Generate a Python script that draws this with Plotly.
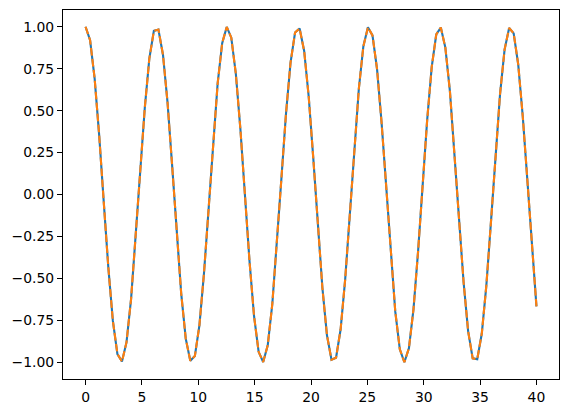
import plotly.graph_objects as go

# sample positions and cosine values
x_vals = [0.0, 0.404, 0.808, 1.212, 1.616, 2.020, 2.424, 2.828, 3.232, 3.636,
          4.040, 4.444, 4.848, 5.253, 5.657, 6.061, 6.465, 6.869, 7.273, 7.677,
          8.081, 8.485, 8.889, 9.293, 9.697, 10.101, 10.505, 10.909, 11.313, 11.717,
          12.121, 12.525, 12.929, 13.333, 13.737, 14.141, 14.545, 14.949, 15.354, 15.758,
          16.162, 16.566, 16.970, 17.374, 17.778, 18.182, 18.586, 18.990, 19.394, 19.798,
          20.202, 20.606, 21.010, 21.414, 21.818, 22.222, 22.626, 23.030, 23.434, 23.838,
          24.242, 24.646, 25.051, 25.455, 25.859, 26.263, 26.667, 27.071, 27.475, 27.879,
          28.283, 28.687, 29.091, 29.495, 29.899, 30.303, 30.707, 31.111, 31.515, 31.919,
          32.323, 32.727, 33.131, 33.535, 33.939, 34.343, 34.747, 35.152, 35.556, 35.960,
          36.364, 36.768, 37.172, 37.576, 37.980, 38.384, 38.788, 39.192, 39.596, 40.0]

y_vals = [1.0000, 0.9195, 0.6909, 0.3511, -0.0453, -0.4344, -0.7536, -0.9513, -0.9959, -0.8801,
          -0.6225, -0.2648, 0.1357, 0.5142, 0.8100, 0.9753, 0.9836, 0.8334, 0.5491, 0.1763,
          -0.2249, -0.5898, -0.8598, -0.9913, -0.9632, -0.7799, -0.4711, -0.0864, 0.3122, 0.6606,
          0.9025, 0.9992, 0.9349, 0.7200, 0.3892, -0.0042, -0.3970, -0.7259, -0.9379, -0.9988,
          -0.8989, -0.6542, -0.3042, 0.0948, 0.4786, 0.7852, 0.9654, 0.9902, 0.8555, 0.5830,
          0.2166, -0.1846, -0.5561, -0.8381, -0.9851, -0.9734, -0.8050, -0.5070, -0.1273, 0.2729,
          0.6292, 0.8841, 0.9966, 0.9487, 0.7479, 0.4268, 0.0369, -0.3590, -0.6970, -0.9228,
          -1.0000, -0.9161, -0.6847, -0.3431, 0.0538, 0.4421, 0.7591, 0.9539, 0.9951, 0.8760,
          0.6159, 0.2566, -0.1441, -0.5215, -0.8150, -0.9772, -0.9820, -0.8287, -0.5419, -0.1679,
          0.2332, 0.5967, 0.8641, 0.9924, 0.9609, 0.7746, 0.4636, 0.0779, -0.3203, -0.6669]

x_ticks = [0, 5, 10, 15, 20, 25, 30, 35, 40]
y_ticks = [-1.0, -0.75, -0.5, -0.25, 0.0, 0.25, 0.5, 0.75, 1.0]

fig = go.Figure()
fig.add_trace(go.Scatter(x=x_vals, y=y_vals, mode='lines', name='cos',
                         line=dict(color='#1f77b4', width=2.1)))
fig.add_trace(go.Scatter(x=x_vals, y=y_vals, mode='lines', name='cos (dashed)',
                         line=dict(color='#ff7f0e', width=2.1, dash='7.7px,3.3px')))

axis_style = dict(
    showgrid=False,
    zeroline=False,
    showline=True,
    mirror=True,
    linecolor='black',
    linewidth=1.1,
    ticks='outside',
    ticklen=5,
    tickwidth=1.1,
    tickcolor='black',
    automargin=False,
    tickfont=dict(family='DejaVu Sans', size=13.9, color='black'),
)

fig.update_layout(
    width=568,
    height=413,
    margin=dict(l=63, r=9, t=10, b=34),
    plot_bgcolor='white',
    paper_bgcolor='white',
    showlegend=False,
    xaxis=dict(range=[-2, 42], tickvals=x_ticks, ticktext=[str(v) for v in x_ticks], **axis_style),
    yaxis=dict(range=[-1.1, 1.1], tickvals=y_ticks,
               ticktext=[f"{v:.2f}".replace('-', '\u2212') for v in y_ticks], **axis_style),
)

# drop the default page margin so the figure sits at the window corner
fig.write_html("out.html", config={'displayModeBar': False},
               post_script="document.body.style.margin = '0';")
